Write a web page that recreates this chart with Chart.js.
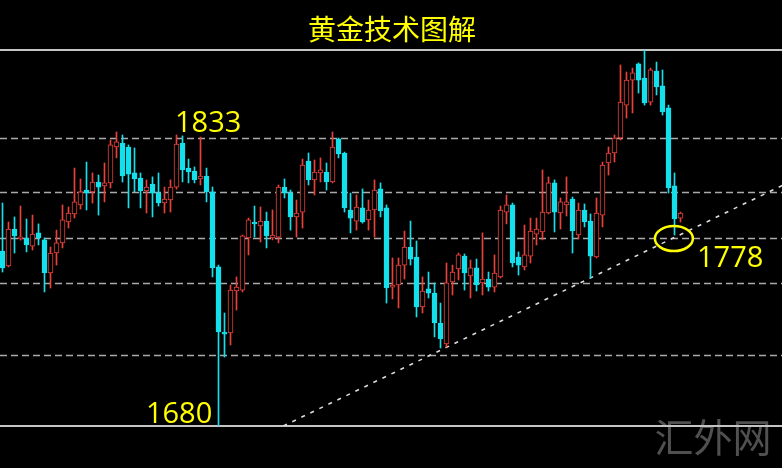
<!DOCTYPE html>
<html>
<head>
<meta charset="utf-8">
<title>黄金技术图解</title>
<script src="https://cdn.jsdelivr.net/npm/chart.js@4.4.0/dist/chart.umd.min.js"></script>
<style>
  html, body { margin: 0; padding: 0; background: #000; }
  #wrap { width: 782px; height: 468px; position: relative; }
</style>
</head>
<body>
<div id="wrap"><canvas id="chart"></canvas></div>
<script>
// candles, oldest first (price in USD/oz)
const opens = [
  1773.1, 1765.1, 1784.8, 1779.5, 1780.0, 1775.7, 1782.7, 1779.0, 1761.4, 1772.0,
  1777.4, 1788.5, 1792.8, 1797.6, 1805.5, 1804.5, 1809.8, 1807.7, 1809.3, 1828.4,
  1830.5, 1828.4, 1814.6, 1811.9, 1805.0, 1808.7, 1803.9, 1798.6, 1800.2, 1807.1,
  1830.5, 1817.2, 1815.6, 1811.4, 1813.0, 1804.5, 1764.6, 1730.0, 1729.5, 1751.8,
  1752.3, 1780.0, 1788.5, 1786.4, 1789.0, 1780.0, 1780.5, 1807.1, 1803.9, 1791.2,
  1793.8, 1820.9, 1810.9, 1814.6, 1815.1, 1809.8, 1832.7, 1825.2, 1794.9, 1789.0,
  1796.0, 1789.6, 1794.9, 1806.1, 1796.0, 1753.9, 1755.0, 1765.6, 1775.2, 1769.9,
  1743.3, 1752.9, 1750.7, 1734.8, 1723.6, 1756.6, 1763.5, 1770.4, 1759.8, 1764.1,
  1756.1, 1758.2, 1753.9, 1759.3, 1793.8, 1797.6, 1769.9, 1764.6, 1770.4, 1782.1,
  1783.2, 1793.3, 1809.3, 1793.3, 1797.6, 1800.7, 1781.6, 1794.9, 1789.0, 1769.9,
  1792.2, 1819.9, 1825.2, 1833.2, 1850.7, 1864.0, 1872.6, 1865.1, 1852.3, 1868.8,
  1860.9, 1849.2, 1807.7, 1790.6
];
const highs = [
  1798.6, 1788.5, 1791.2, 1797.0, 1790.1, 1792.2, 1787.5, 1780.0, 1775.2, 1784.2,
  1797.6, 1796.5, 1817.2, 1811.4, 1820.4, 1814.6, 1813.5, 1819.9, 1832.1, 1836.4,
  1834.8, 1829.5, 1827.9, 1814.6, 1810.9, 1812.5, 1814.6, 1807.1, 1810.9, 1834.8,
  1834.3, 1822.0, 1817.8, 1833.7, 1817.2, 1807.1, 1765.6, 1740.1, 1755.0, 1759.3,
  1781.6, 1790.6, 1797.0, 1796.5, 1793.8, 1794.9, 1808.2, 1811.4, 1805.5, 1800.2,
  1822.0, 1825.2, 1821.5, 1822.6, 1819.9, 1836.4, 1833.2, 1825.7, 1803.9, 1802.9,
  1806.1, 1800.2, 1810.9, 1809.3, 1797.6, 1769.4, 1769.4, 1783.7, 1789.0, 1778.4,
  1759.3, 1761.9, 1756.1, 1745.4, 1766.7, 1765.6, 1772.0, 1771.5, 1768.3, 1768.8,
  1782.7, 1761.9, 1771.0, 1797.0, 1802.9, 1798.6, 1772.6, 1786.9, 1790.6, 1790.6,
  1816.2, 1812.5, 1810.9, 1801.3, 1812.5, 1801.8, 1798.6, 1798.1, 1792.8, 1801.3,
  1820.4, 1828.4, 1834.8, 1872.0, 1868.3, 1870.4, 1873.1, 1880.0, 1870.4, 1873.6,
  1869.4, 1850.7, 1814.6, 1793.8
];
const lows = [
  1761.9, 1764.6, 1772.0, 1778.9, 1772.6, 1773.6, 1776.3, 1751.3, 1753.4, 1765.6,
  1774.7, 1785.3, 1790.6, 1795.4, 1794.9, 1798.6, 1792.2, 1799.2, 1806.6, 1822.6,
  1809.8, 1796.0, 1804.5, 1796.0, 1793.3, 1791.2, 1797.0, 1793.3, 1793.8, 1806.0,
  1809.8, 1809.3, 1809.3, 1808.2, 1799.2, 1759.3, 1680.0, 1716.7, 1723.1, 1741.7,
  1751.3, 1771.0, 1780.5, 1777.9, 1774.7, 1779.0, 1777.4, 1801.3, 1784.2, 1780.5,
  1785.3, 1808.2, 1802.9, 1809.8, 1805.5, 1809.3, 1822.6, 1793.8, 1782.7, 1784.2,
  1787.9, 1784.2, 1780.5, 1791.2, 1745.4, 1747.6, 1742.8, 1758.2, 1765.6, 1738.0,
  1740.1, 1748.1, 1727.4, 1721.5, 1722.0, 1749.7, 1757.7, 1752.3, 1748.1, 1751.8,
  1749.7, 1751.8, 1751.3, 1758.7, 1787.5, 1764.6, 1760.3, 1763.0, 1766.7, 1776.3,
  1779.0, 1792.8, 1783.2, 1784.8, 1791.7, 1772.0, 1779.5, 1785.9, 1758.7, 1769.4,
  1785.9, 1813.5, 1820.4, 1832.1, 1843.8, 1846.5, 1857.1, 1850.7, 1850.7, 1856.1,
  1845.4, 1803.9, 1781.6, 1788.5
];
const closes = [
  1764.1, 1784.8, 1781.1, 1780.6, 1776.3, 1782.1, 1780.0, 1761.4, 1772.0, 1777.4,
  1789.6, 1793.3, 1799.2, 1804.5, 1803.9, 1809.8, 1807.1, 1809.3, 1829.5, 1831.1,
  1813.0, 1814.0, 1811.4, 1805.0, 1807.1, 1803.9, 1798.6, 1800.7, 1807.1, 1830.0,
  1816.2, 1815.1, 1810.9, 1813.0, 1804.5, 1764.1, 1730.0, 1728.9, 1752.3, 1753.9,
  1781.1, 1789.6, 1787.5, 1789.0, 1781.1, 1781.6, 1807.1, 1803.9, 1791.2, 1793.3,
  1818.8, 1810.9, 1815.1, 1816.2, 1809.8, 1828.4, 1824.7, 1796.0, 1790.6, 1796.5,
  1788.5, 1794.9, 1805.5, 1794.4, 1753.4, 1755.0, 1765.6, 1775.2, 1768.8, 1743.3,
  1751.8, 1750.7, 1734.8, 1726.3, 1756.1, 1761.9, 1771.0, 1761.4, 1764.1, 1755.0,
  1758.2, 1753.9, 1761.4, 1794.9, 1797.6, 1766.7, 1765.6, 1771.0, 1783.7, 1784.8,
  1793.8, 1809.3, 1793.8, 1799.2, 1799.2, 1783.7, 1794.9, 1788.5, 1770.4, 1793.3,
  1818.8, 1825.2, 1833.2, 1852.3, 1864.0, 1867.8, 1864.0, 1851.8, 1869.4, 1860.3,
  1847.0, 1806.6, 1790.1, 1793.3
];

// horizontal levels (dashed) and the frame (solid)
const gridLevels = [1718, 1756, 1780, 1804.5, 1833];
const frameLevels = [1680, 1880];

// rising support line, candle index -> price
const trendX = [46.8, 130];
const trendY = [1680, 1808];

// marked prices
const markText = ['1833', '1680', '1778'];
const markAt = [[28.75, 1836.4], [23.9, 1681.6], [115.75, 1764.6]];
const circleAt = [111.9, 1779.7];

const UP = '#e8413a';
const DOWN = '#14e0ec';
const isUp = opens.map((o, i) => closes[i] >= o);

const overlay = {
  id: 'overlay',
  beforeDraw(chart) {
    const { ctx, width, height } = chart;
    ctx.save();
    ctx.fillStyle = '#000';
    ctx.fillRect(0, 0, width, height);
    ctx.fillStyle = '#ffff00';
    ctx.font = '28px "Noto Sans CJK SC"';
    ctx.textAlign = 'center';
    ctx.textBaseline = 'alphabetic';
    ctx.fillText('黄金技术图解', 392, 40);
    ctx.restore();
  },
  beforeDatasetsDraw(chart) {
    const { ctx, chartArea } = chart;
    const y = chart.scales.y;
    ctx.save();
    // watermark
    ctx.fillStyle = '#505050';
    ctx.font = '39px "Noto Sans CJK SC"';
    ctx.textAlign = 'center';
    ctx.fillText('汇外网', 713, 452);

    ctx.strokeStyle = '#aaaaaa';
    ctx.lineWidth = 1.5;
    ctx.setLineDash([7, 4]);
    gridLevels.forEach(v => {
      const py = Math.round(y.getPixelForValue(v)) + 0.5;
      ctx.beginPath();
      ctx.moveTo(chartArea.left, py);
      ctx.lineTo(chartArea.right, py);
      ctx.stroke();
    });
    ctx.setLineDash([]);
    ctx.strokeStyle = '#c4c4c4';
    ctx.lineWidth = 2;
    frameLevels.forEach(v => {
      const py = Math.round(y.getPixelForValue(v));
      ctx.beginPath();
      ctx.moveTo(chartArea.left, py);
      ctx.lineTo(chartArea.right, py);
      ctx.stroke();
    });
    ctx.restore();
  },
  afterDatasetsDraw(chart) {
    const { ctx } = chart;
    const { x, y } = chart.scales;
    ctx.save();
    ctx.fillStyle = '#ffff00';
    ctx.font = '29px "Open Sans"';
    ctx.textAlign = 'left';
    ctx.textBaseline = 'alphabetic';
    markText.forEach((t, k) => {
      ctx.fillText(t, x.getPixelForValue(markAt[k][0]), y.getPixelForValue(markAt[k][1]));
    });
    ctx.strokeStyle = '#ffff00';
    ctx.lineWidth = 2.5;
    ctx.beginPath();
    ctx.ellipse(x.getPixelForValue(circleAt[0]), y.getPixelForValue(circleAt[1]), 19, 12.5, 0, 0, Math.PI * 2);
    ctx.stroke();
    ctx.restore();
  }
};

new Chart(document.getElementById('chart'), {
  type: 'bar',
  data: {
    datasets: [
      {
        label: 'body',
        data: opens.map((o, i) => ({ x: i, y: [o, closes[i]] })),
        backgroundColor: isUp.map(u => u ? '#000' : DOWN),
        borderColor: isUp.map(u => u ? UP : DOWN),
        borderWidth: 1,
        borderSkipped: false,
        barThickness: 5,
        grouped: false
      },
      {
        label: 'wick',
        data: lows.map((l, i) => ({ x: i, y: [l, highs[i]] })),
        backgroundColor: isUp.map(u => u ? UP : DOWN),
        borderWidth: 0,
        barThickness: 1,
        grouped: false
      },
      {
        type: 'line',
        label: 'support',
        data: trendX.map((t, i) => ({ x: t, y: trendY[i] })),
        borderColor: '#dcdcdc',
        borderWidth: 1.6,
        borderDash: [4, 6],
        pointRadius: 0,
        fill: false
      }
    ]
  },
  options: {
    responsive: true,
    maintainAspectRatio: false,
    animation: false,
    layout: { padding: { top: 50, bottom: 42, left: 0, right: 0 } },
    plugins: {
      legend: { display: false },
      tooltip: { enabled: false },
      title: { display: false }
    },
    scales: {
      x: { type: 'linear', min: -0.4167, max: 129.9167, offset: false, display: false },
      y: { type: 'linear', min: 1680, max: 1880, display: false }
    }
  },
  plugins: [overlay]
});
</script>
</body>
</html>
